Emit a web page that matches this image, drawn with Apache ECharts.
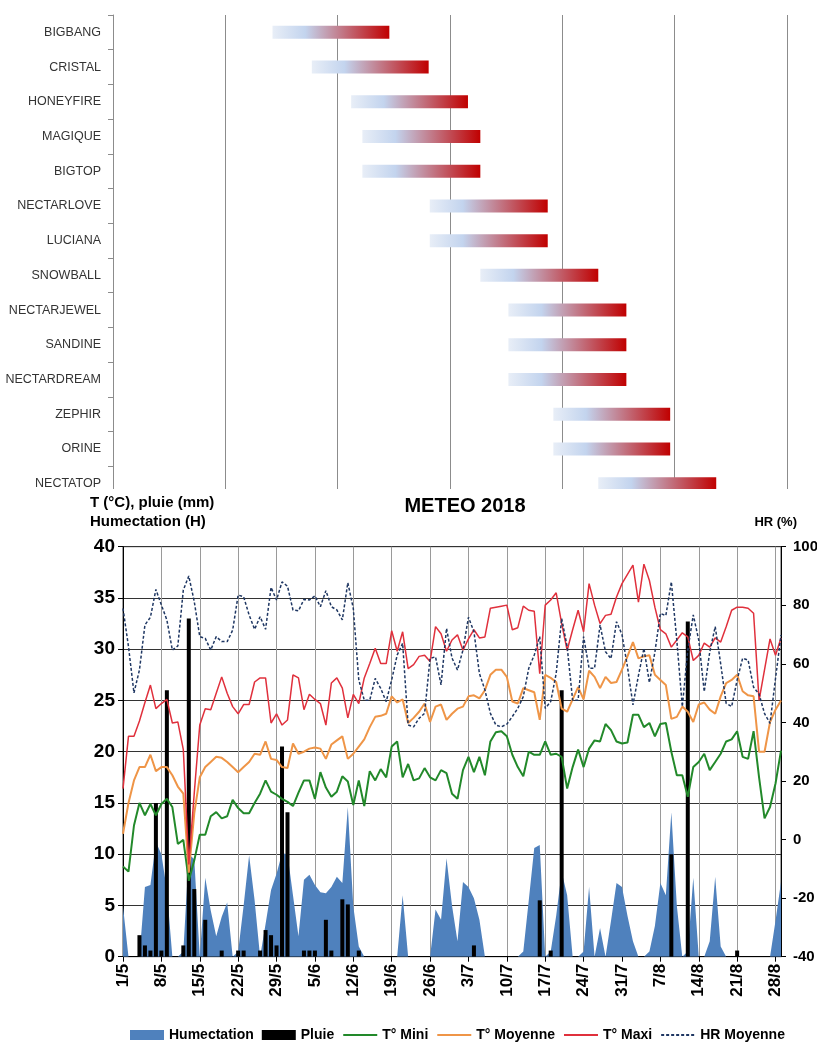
<!DOCTYPE html>
<html><head><meta charset="utf-8">
<script src="https://cdn.jsdelivr.net/npm/echarts@6/dist/echarts.min.js"></script>
<style>
html,body{margin:0;padding:0;background:#fff;}
#topWrap{position:absolute;left:0;top:0;width:817px;height:489px;overflow:hidden;}
#top{width:817px;height:510px;}
#bottom{position:absolute;left:0;top:489px;width:817px;height:554px;}
</style></head><body>
<div id="topWrap"><div id="top"></div></div>
<div id="bottom"></div>
<script>
// ---------- Top chart data (harvest windows) ----------
const varieties = ['BIGBANG','CRISTAL','HONEYFIRE','MAGIQUE','BIGTOP','NECTARLOVE','LUCIANA','SNOWBALL','NECTARJEWEL','SANDINE','NECTARDREAM','ZEPHIR','ORINE','NECTATOP'];
const harvestStart = [14.2,17.7,21.2,22.2,22.2,28.2,28.2,32.7,35.2,35.2,35.2,39.2,39.2,43.2];
const harvestEnd   = [24.6,28.1,31.6,32.7,32.7,38.7,38.7,43.2,45.7,45.7,45.7,49.6,49.6,53.7];

// ---------- Meteo data (1/5 -> 29/8/2018, daily) ----------
const startDay = {year:2018, month:5, day:1};
const dayCount = 121;
const humectation = [4.9,0,0,0,6.8,7.0,11.2,10.0,6.5,0,
 0,0.5,10.0,9.5,0,7.7,4.5,2.0,3.9,5.3,
 0,0.5,5.0,9.9,5.5,0,3.2,6.5,8.1,10.1,
 10.0,6.0,2.0,7.5,8.0,7.0,6.3,6.2,6.8,7.8,
 7.2,14.6,4.9,1.0,0,0,0,0,0,0,
 0,6.0,0,0,0,0,0,4.6,3.6,9.6,
 5.0,1.5,7.3,6.8,5.7,3.6,0,0,0,0,
 0,0,0,0.5,5.5,10.6,10.9,0,0.5,4.0,
 8.3,6.0,0,0,0.5,6.8,0,2.8,0,3.5,
 7.2,6.8,4.0,1.5,0,0,0.5,3.0,7.2,6.0,
 14.1,5.0,0,0.5,7.7,0,0,1.5,7.8,1.0,
 0,0,0,0,0,0,0,0,0,3.5,
 7.3];
const pluie = [0,0,0,2.1,1.1,0.6,15.0,0.6,26.0,0,
 0,1.1,33.0,6.6,0,3.6,0,0,0.6,0,
 0,0.6,0.6,0,0,0.6,2.6,2.1,1.1,20.5,
 14.1,0,0,0.6,0.6,0.6,0,3.6,0.6,0,
 5.6,5.1,0,0.6,0,0,0,0,0,0,
 0,0,0,0,0,0,0,0,0,0,
 0,0,0,0,1.1,0,0,0,0,0,
 0,0,0,0,0,0,5.5,0,0.6,0,
 26.0,0,0,0,0,0,0,0,0,0,
 0,0,0,0,0,0,0,0,0,0,
 10.0,0,0,32.7,0,0,0,0,0,0,
 0,0,0.6,0,0,0,0,0,0,0,
 0];
const tMini = [8.8,8.3,12.8,15.0,13.8,14.9,13.8,14.9,15.4,14.6,
 11.0,11.4,7.4,9.4,11.9,11.9,13.7,14.1,13.5,13.7,
 15.3,14.5,14.0,14.0,15.0,15.9,17.2,16.1,15.8,15.4,
 15.1,14.7,16.0,17.2,17.2,15.4,18.0,16.5,15.6,16.1,
 17.6,17.1,14.8,17.2,14.7,18.1,17.2,18.3,17.5,20.5,
 21.0,17.5,18.8,17.2,17.4,18.4,17.5,17.2,18.2,17.9,
 15.9,15.4,18.2,19.5,18.0,19.5,17.7,21.0,21.9,22.0,
 21.5,19.7,18.5,17.6,20.0,19.7,19.7,21.0,19.7,19.8,
 19.5,16.4,18.5,20.2,18.5,20.3,21.1,21.0,22.7,22.1,
 21.0,20.8,20.9,23.6,23.6,22.4,22.8,21.5,22.7,22.8,
 20.0,17.7,17.7,15.6,18.5,19.0,19.8,18.2,19.0,19.8,
 21.0,21.2,22.0,19.5,19.3,22.0,17.5,13.5,14.6,16.9,
 20.1];
const tMoyenne = [12.0,15.0,17.2,18.5,18.5,19.7,18.1,18.5,18.5,17.7,
 16.6,15.9,8.2,14.0,17.5,18.5,19.0,19.5,19.4,19.0,
 18.5,18.0,18.5,19.0,19.8,19.7,21.0,19.3,19.2,18.5,
 18.4,20.8,19.8,20.0,20.3,20.4,20.3,19.3,20.7,21.1,
 21.5,19.3,19.8,20.5,21.2,22.4,23.4,23.5,23.7,25.4,
 24.8,25.1,22.8,23.3,23.9,24.7,22.9,24.4,24.6,23.1,
 23.7,24.2,24.4,25.4,25.5,25.2,26.0,27.5,28.0,28.0,
 27.3,24.9,24.7,26.2,26.0,25.8,23.1,27.5,27.2,26.8,
 24.2,23.9,25.1,26.3,25.1,27.9,27.3,26.2,27.3,26.7,
 26.8,28.0,29.3,30.7,29.1,29.3,29.4,27.5,27.0,26.5,
 23.2,23.4,24.4,23.9,22.9,24.6,24.8,24.1,23.7,25.4,
 26.7,27.0,27.5,25.9,25.5,25.4,20.0,20.0,22.9,24.1,
 25.0];
const tMaxi = [16.4,21.5,21.5,23.0,24.8,26.5,24.2,24.7,25.1,22.8,
 22.9,20.2,9.0,16.0,22.6,24.2,24.1,25.7,27.3,25.7,
 24.4,23.7,24.6,24.6,26.8,27.2,27.2,22.8,23.7,22.6,
 23.1,27.5,27.2,24.1,25.6,25.1,24.7,22.6,26.7,27.2,
 26.2,23.3,25.6,24.7,27.2,28.6,30.1,28.6,28.6,31.8,
 29.8,31.7,28.1,28.5,29.3,29.4,28.8,32.2,31.5,29.8,
 30.9,31.4,29.9,31.0,31.9,31.1,31.2,34.0,34.1,34.2,
 34.3,31.9,32.1,34.2,33.8,33.7,27.6,34.3,34.8,35.5,
 32.5,29.9,31.9,33.8,31.7,36.4,34.3,32.5,33.3,33.4,
 35.1,36.4,37.3,38.2,34.6,38.3,36.7,34.1,31.9,31.5,
 30.2,30.9,31.6,31.2,28.9,29.4,30.6,30.2,31.1,30.7,
 32.2,33.8,34.1,34.1,34.0,33.5,25.0,28.0,31.0,29.4,
 31.1];
const hrMoyenne = [78.9,65.9,50.1,57.9,73.3,75.9,85.4,80.1,75.0,64.7,
 66.1,85.2,90.0,81.2,69.3,68.7,64.7,69.3,67.6,67.6,
 71.5,83.5,82.9,76.7,71.8,76.1,71.8,86.1,81.8,88.0,
 86.5,78.4,78.1,82.0,81.8,83.2,79.5,85.0,79.5,78.4,
 75.0,87.7,78.9,54.5,47.6,47.6,55.0,51.6,47.1,54.5,
 63.0,67.0,39.1,38.5,41.4,43.1,61.9,62.4,52.8,72.1,
 62.0,57.9,64.7,75.9,71.0,56.7,51.1,43.1,39.1,38.5,
 39.4,42.0,44.8,48.8,58.5,63.0,69.3,44.8,47.1,56.7,
 75.5,65.9,47.6,47.6,69.3,58.5,58.5,73.3,64.1,61.8,
 74.4,70.0,59.0,46.0,56.0,65.3,53.6,64.0,77.2,76.5,
 88.0,68.0,45.4,64.7,76.7,68.1,50.5,64.0,72.7,60.0,
 46.5,45.4,54.5,61.9,61.3,52.0,49.7,43.0,39.7,55.0,
 69.8];

// category labels (d/m)
const dates = [];
for (let i = 0; i < dayCount; i++) {
  const d = new Date(startDay.year, startDay.month - 1, startDay.day + i);
  dates.push(d.getDate() + '/' + (d.getMonth() + 1));
}

const FONT = "'Liberation Sans',Arial,sans-serif";

// ---------- Top chart ----------
const topChart = echarts.init(document.getElementById('top'));
topChart.setOption({
  animation: false,
  grid: {left: 113, top: 15, width: 674, height: 486, outerBoundsMode: 'none', containLabel: false},
  xAxis: {type: 'value', min: 0, max: 60, interval: 10,
    axisLine: {show: false}, axisTick: {show: false}, axisLabel: {show: false},
    splitLine: {show: true, lineStyle: {color: '#8c8c8c', width: 1}}},
  yAxis: {type: 'category', inverse: true, data: varieties,
    axisLine: {show: true, lineStyle: {color: '#8c8c8c'}},
    axisTick: {show: true, length: 5, lineStyle: {color: '#8c8c8c'}},
    axisLabel: {margin: 12, fontFamily: FONT, fontSize: 12.5, color: '#333'}},
  series: [
    {type: 'bar', stack: 'h', data: harvestStart, barWidth: 13,
      itemStyle: {color: 'rgba(0,0,0,0)'}, silent: true},
    {type: 'bar', stack: 'h', barWidth: 13,
      data: harvestEnd.map((e, i) => +(e - harvestStart[i]).toFixed(2)),
      itemStyle: {color: new echarts.graphic.LinearGradient(0, 0, 1, 0, [
        {offset: 0, color: '#e8eef7'},
        {offset: 0.28, color: '#c3d4ee'},
        {offset: 1, color: '#c00000'}])}}
  ]
});

// ---------- Bottom chart ----------
const bot = echarts.init(document.getElementById('bottom'));
const axisFont = {fontFamily: FONT, fontWeight: 'bold', color: '#000'};
const noSym = {opacity: 0};
bot.setOption({
  animation: false,
  grid: {left: 123, right: 36, top: 57.7, bottom: 86.3, show: true, borderColor: '#444', borderWidth: 1,
    outerBoundsMode: 'none', containLabel: false},
  graphic: [
    {type: 'text', x: 465, y: 17, style: {text: 'METEO 2018', font: "bold 20px 'Liberation Sans',Arial,sans-serif", fill: '#000', align: 'center', verticalAlign: 'middle'}},
    {type: 'text', x: 90, y: 14, style: {text: 'T (°C), pluie (mm)', font: "bold 15px 'Liberation Sans',Arial,sans-serif", fill: '#000', align: 'left', verticalAlign: 'middle'}},
    {type: 'text', x: 90, y: 33, style: {text: 'Humectation (H)', font: "bold 15px 'Liberation Sans',Arial,sans-serif", fill: '#000', align: 'left', verticalAlign: 'middle'}},
    {type: 'text', x: 797, y: 33, style: {text: 'HR (%)', font: "bold 13px 'Liberation Sans',Arial,sans-serif", fill: '#000', align: 'right', verticalAlign: 'middle'}}
  ],
  legend: {left: 130, top: 539, itemWidth: 34, itemHeight: 10, itemGap: 8, padding: 0,
    textStyle: {fontFamily: FONT, fontWeight: 'bold', fontSize: 14, color: '#000'},
    data: [{name: 'Humectation', icon: 'rect'}, {name: 'Pluie', icon: 'rect'},
      {name: 'T° Mini', itemStyle: noSym}, {name: 'T° Moyenne', itemStyle: noSym},
      {name: 'T° Maxi', itemStyle: noSym}, {name: 'HR Moyenne', itemStyle: noSym}]},
  xAxis: {type: 'category', data: dates, boundaryGap: false,
    axisLine: {lineStyle: {color: '#000'}},
    axisTick: {show: true, interval: 6, length: 5, lineStyle: {color: '#000'}},
    axisLabel: {interval: 6, rotate: 90, margin: 7, fontFamily: FONT, fontWeight: 'bold', fontSize: 17, color: '#000'},
    splitLine: {show: true, interval: 6, lineStyle: {color: '#9a9a9a', width: 1}}},
  yAxis: [
    {type: 'value', min: 0, max: 40, interval: 5, position: 'left',
      axisLine: {show: true, lineStyle: {color: '#000'}},
      axisTick: {show: true, length: 5, lineStyle: {color: '#000'}},
      axisLabel: Object.assign({fontSize: 19, margin: 8}, axisFont),
      splitLine: {show: true, lineStyle: {color: '#333', width: 1}}},
    {type: 'value', min: -40, max: 100, interval: 20, position: 'right',
      axisLine: {show: true, lineStyle: {color: '#000'}},
      axisTick: {show: true, length: 5, lineStyle: {color: '#000'}},
      axisLabel: Object.assign({fontSize: 15, margin: 12}, axisFont),
      splitLine: {show: false}}
  ],
  series: [
    {name: 'Humectation', type: 'line', data: humectation, symbol: 'none', z: 1,
      itemStyle: {color: '#4f81bd'}, lineStyle: {width: 0, color: '#4f81bd'},
      areaStyle: {color: '#4f81bd', opacity: 1}},
    {name: 'Pluie', type: 'bar', data: pluie, barWidth: 4, z: 2, itemStyle: {color: '#000'}},
    {name: 'T° Mini', type: 'line', data: tMini, symbol: 'none', z: 3,
      itemStyle: {color: '#22892a'}, lineStyle: {width: 2, color: '#22892a'}},
    {name: 'T° Moyenne', type: 'line', data: tMoyenne, symbol: 'none', z: 3,
      itemStyle: {color: '#ef9547'}, lineStyle: {width: 2, color: '#ef9547'}},
    {name: 'T° Maxi', type: 'line', data: tMaxi, symbol: 'none', z: 3,
      itemStyle: {color: '#e0303c'}, lineStyle: {width: 1.5, color: '#e0303c'}},
    {name: 'HR Moyenne', type: 'line', yAxisIndex: 1, data: hrMoyenne, symbol: 'none', z: 4,
      itemStyle: {color: '#1f3763'}, lineStyle: {width: 1.5, color: '#1f3763', type: [3, 2]}}
  ]
});
</script>
</body></html>
